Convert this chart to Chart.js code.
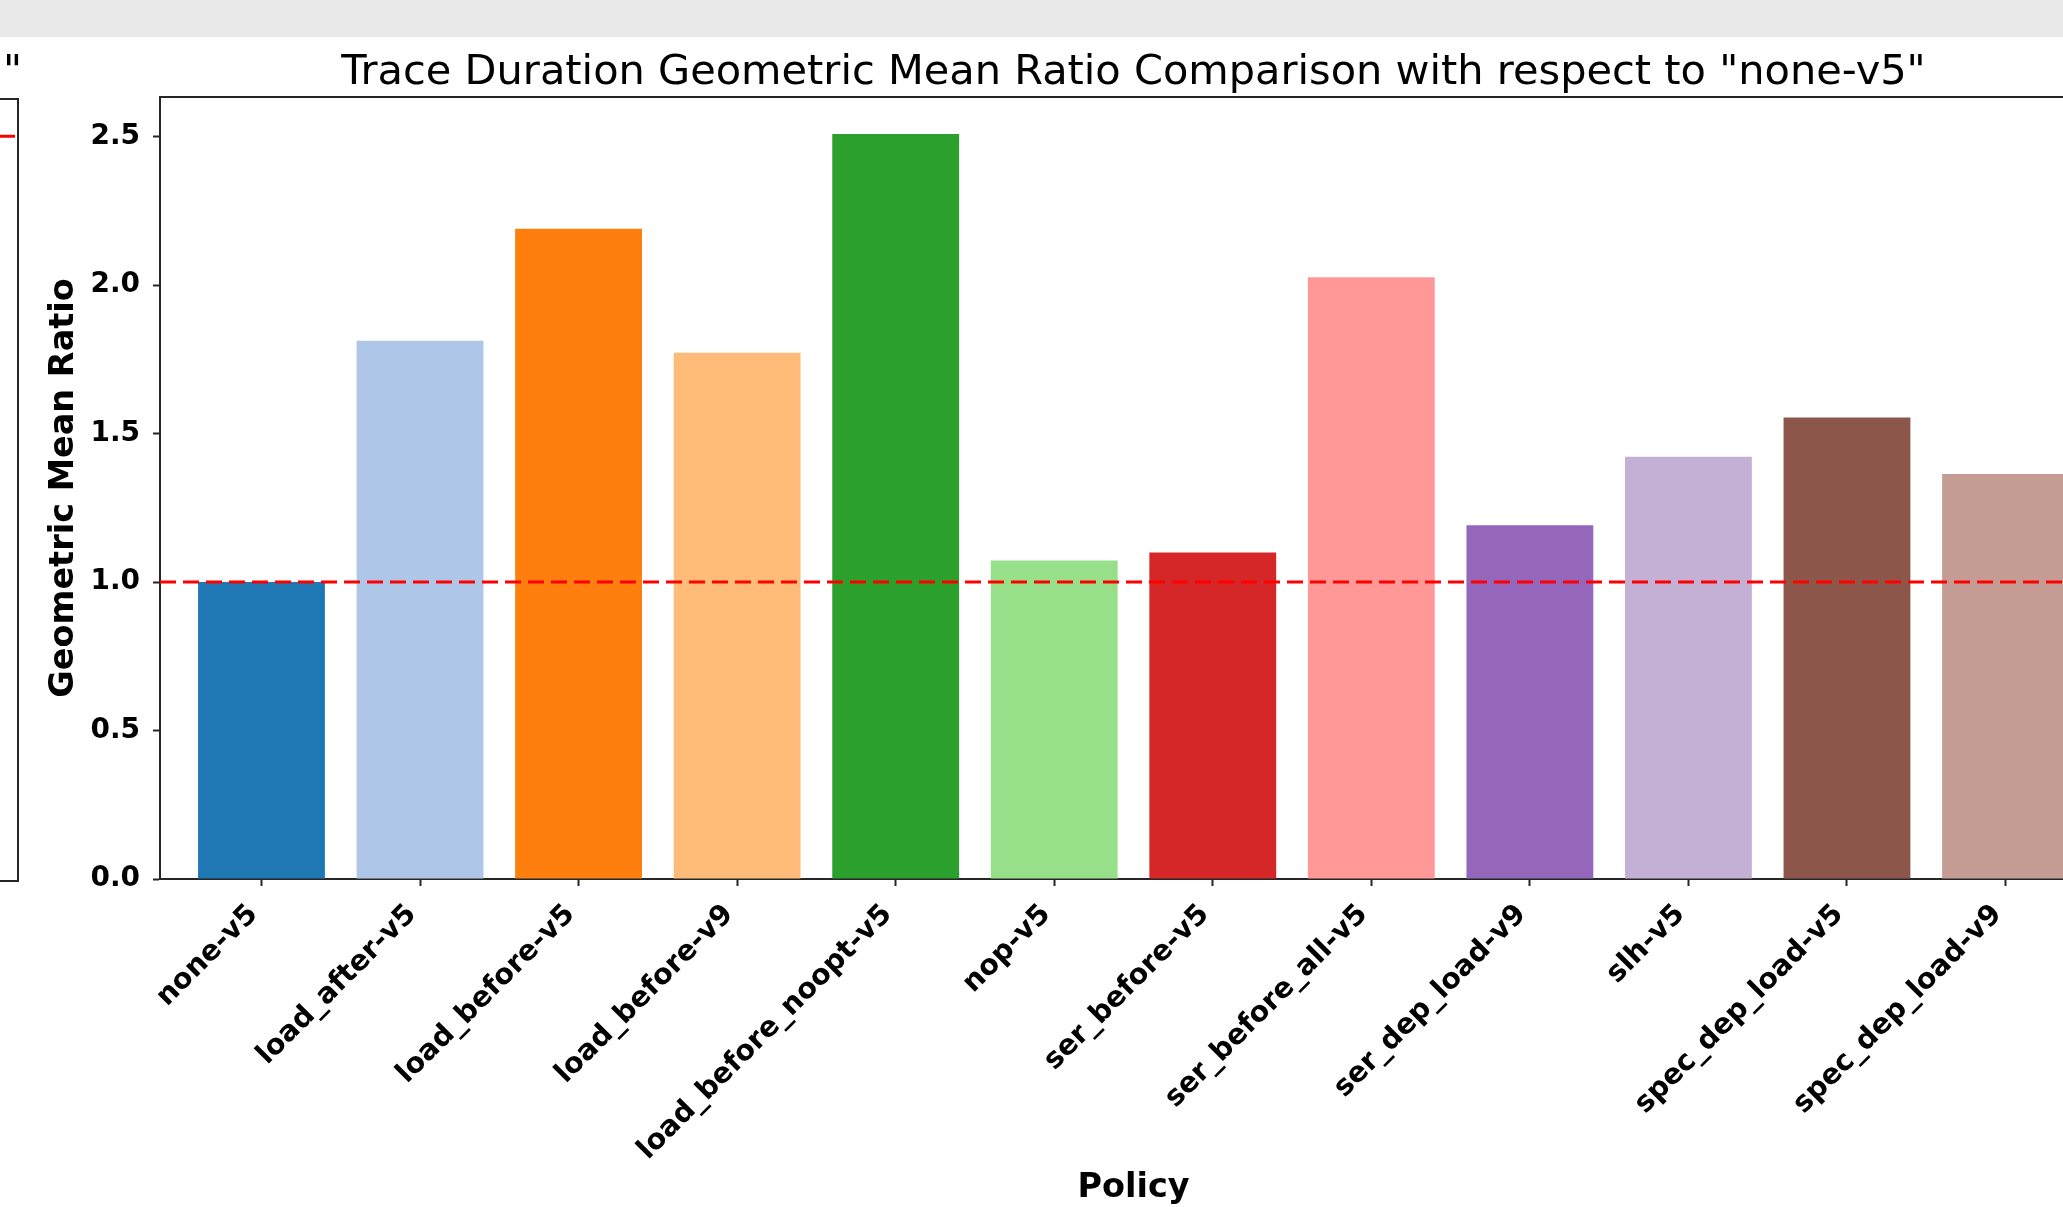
<!DOCTYPE html>
<html>
<head>
<meta charset="utf-8">
<script src="https://cdn.jsdelivr.net/npm/chart.js@4.4.1/dist/chart.umd.min.js"></script>
<style>
  html, body { margin: 0; padding: 0; overflow: hidden; background: #fff; }
  #page { position: relative; width: 2063px; height: 1207px; overflow: hidden; background: #fff; }
  #topbar { position: absolute; left: 0; top: 0; width: 100%; height: 37px; background: #e8e8e8; z-index: 2; }
  #main { position: absolute; left: 0; top: 0; }
  #prev { position: absolute; left: -1700px; top: 0; }
</style>
</head>
<body>
<div id="page">
  <canvas id="prev" width="1760" height="1207"></canvas>
  <canvas id="main" width="2160" height="1207"></canvas>
  <div id="topbar"></div>
</div>
<script>
// ---- data ----
const TITLE = 'Trace Duration Geometric Mean Ratio Comparison with respect to "none-v5"';
const policies = [
  "none-v5", "load_after-v5", "load_before-v5", "load_before-v9", "load_before_noopt-v5", "nop-v5",
  "ser_before-v5", "ser_before_all-v5", "ser_dep_load-v9", "slh-v5", "spec_dep_load-v5", "spec_dep_load-v9"
];
const ratios = [1.000, 1.812, 2.189, 1.772, 2.508, 1.072, 1.099, 2.026, 1.191, 1.422, 1.554, 1.364];
const barColors = [
  "#1f77b4", "#aec7e8", "#ff7f0e", "#ffbb78", "#2ca02c", "#98df8a",
  "#d62728", "#ff9896", "#9467bd", "#c5b0d5", "#8c564b", "#c49c94"
];
const yTicks = [0, 0.5, 1.0, 1.5, 2.0, 2.5];
const yMax = 2.633;            // 1.05 * max ratio
const xMin = -0.64, xMax = 11.64;
const baseline = 1.0;          // reference "none-v5"
const prevYMax = 1.05;         // panel on the left, only its edge shows

// ---- common ----
Chart.defaults.font.family = "DejaVu Sans";
Chart.defaults.color = "#000";

const spine = { display: true, color: "#262626", width: 2 };
const refLine = { type: "line", borderColor: "#ff0000", borderWidth: 3, borderDash: [16, 7], pointRadius: 0, fill: false, order: 0 };
const titleFont = { size: 41.5, weight: "normal" };

// top spine (optionally with the title, so it centers over the plot)
function topAxis(h, withTitle) {
  return {
    type: "linear", position: "top", min: xMin, max: xMax,
    grid: { display: true, drawOnChartArea: false, drawTicks: false },
    border: spine,
    ticks: { display: false },
    afterFit: s => { s.height = h; },
    title: { display: withTitle, text: TITLE, font: titleFont, padding: { top: h - 49, bottom: 0 } },
  };
}

// ---- main panel ----
new Chart(document.getElementById("main"), {
  type: "bar",
  data: {
    datasets: [
      { ...refLine, xAxisID: "x", yAxisID: "y", data: [{ x: xMin, y: baseline }, { x: xMax, y: baseline }] },
      {
        xAxisID: "x", yAxisID: "y",
        data: policies.map((p, i) => ({ x: i, y: ratios[i] })),
        backgroundColor: barColors, borderWidth: 0,
        barPercentage: 0.8, categoryPercentage: 1.0, order: 1,
      },
    ],
  },
  options: {
    responsive: false, animation: false, devicePixelRatio: 1,
    layout: { padding: { left: 0, top: 0, right: 2160 - 2107, bottom: 0 } },
    plugins: { legend: { display: false }, tooltip: { enabled: false } },
    scales: {
      x: {
        type: "linear", position: "bottom", min: xMin, max: xMax, offset: false,
        grid: { display: true, offset: false, drawOnChartArea: false, drawTicks: true, tickLength: 7, tickColor: "#262626", tickWidth: 2 },
        border: spine,
        afterBuildTicks: s => { s.ticks = policies.map((_, i) => ({ value: i })); },
        afterFit: s => { s.height = 1207 - 879; },
        ticks: {
          autoSkip: false, minRotation: 45, maxRotation: 45, padding: 12, labelOffset: -8,
          font: { size: 28.5, weight: "bold" },
          callback: v => policies[Math.round(v)],
        },
        title: { display: true, text: "Policy", font: { size: 33.5, weight: "bold", lineHeight: 1.1 }, padding: 0 },
      },
      x2: topAxis(97, true),
      y: {
        min: 0, max: yMax,
        grid: { display: true, drawOnChartArea: false, drawTicks: true, tickLength: 7, tickColor: "#262626", tickWidth: 2 },
        border: spine,
        afterBuildTicks: s => { s.ticks = yTicks.map(v => ({ value: v })); },
        afterFit: s => { s.width = 160; },
        ticks: { padding: 13, font: { size: 28, weight: "bold" }, callback: v => v.toFixed(1) },
        title: { display: true, text: "Geometric Mean Ratio", font: { size: 33.5, weight: "bold" }, padding: { top: 43.7, bottom: 0 } },
      },
    },
  },
});

// ---- left panel (cut off, only right edge visible) ----
new Chart(document.getElementById("prev"), {
  type: "line",
  data: { datasets: [{ ...refLine, xAxisID: "x", yAxisID: "y", data: [{ x: xMin, y: baseline }, { x: xMax, y: baseline }] }] },
  options: {
    responsive: false, animation: false, devicePixelRatio: 1,
    layout: { padding: { left: 20, top: 0, right: 38, bottom: 0 } },
    plugins: {
      legend: { display: false }, tooltip: { enabled: false },
      // its title runs a bit past the right spine, as in matplotlib
      title: { display: true, text: TITLE, align: "end", color: "#000", font: titleFont, padding: { top: 48, bottom: 0 } },
    },
    scales: {
      x: {
        type: "linear", position: "bottom", min: xMin, max: xMax,
        grid: { display: true, drawOnChartArea: false, drawTicks: false },
        border: spine, ticks: { display: false },
        afterFit: s => { s.height = 1207 - 881; },
      },
      x2: topAxis(99 - (48 + 41.5 * 1.2), false),
      y: { display: false, min: 0, max: prevYMax },
      y2: {
        position: "right", min: 0, max: prevYMax,
        grid: { display: true, drawOnChartArea: false, drawTicks: false },
        border: spine, ticks: { display: false },
        afterFit: s => { s.width = 4; },
      },
    },
  },
});
</script>
</body>
</html>
